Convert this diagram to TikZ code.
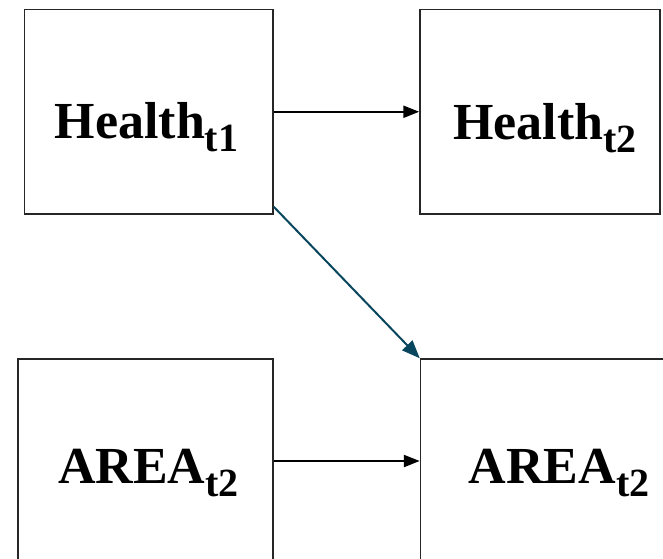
\documentclass[tikz,border=0pt]{standalone}
\usepackage{fontspec}
\setmainfont{Liberation Serif}
\usepackage{tikz}
\usetikzlibrary{arrows.meta}
\definecolor{pathteal}{RGB}{8,70,94}
\newcommand{\lowsub}[1]{\raisebox{-13pt}{\fontsize{40}{40}\selectfont #1}}

\begin{document}
\begin{tikzpicture}[x=1pt,y=-1pt,
  varbox/.style={rectangle, draw=black!85, line width=1.5pt, inner sep=0pt},
  varname/.style={anchor=base, inner sep=0pt, font=\fontsize{52}{60}\selectfont\bfseries},
  effect/.style={line width=2.4pt, -{Triangle[length=16pt,width=12pt]}}]
\clip (0,0) rectangle (663,558);
% boxes
\node[varbox, minimum width=248.5pt, minimum height=204.5pt] (H1) at (148.75,111.75) {};
\node[varbox, minimum width=240pt, minimum height=204.5pt] (H2) at (540,111.75) {};
\node[varbox, minimum width=255pt, minimum height=204pt] (A1) at (145.5,461) {};
\node[varbox, minimum width=260pt, minimum height=204pt] (A2) at (550.5,461) {};
% labels
\node[varname] (H1txt) at (146.5,138) {Health\lowsub{t1}};
\node[varname] (H2txt) at (545,139) {Health\lowsub{t2}};
\node[varname] (A1txt) at (148.5,483) {AREA\lowsub{t2}};
\node[varname] (A2txt) at (559,483) {AREA\lowsub{t2}};
% paths
\draw[effect] (H1.east) -- (H2.west);
\draw[effect] (A1.east) -- (A2.west);
\draw[effect, line width=2pt, draw=pathteal, fill=pathteal, -{Triangle[length=18pt,width=14pt]}]
  ([yshift=8pt]H1.south east) -- (A2.north west);
\end{tikzpicture}
\end{document}
